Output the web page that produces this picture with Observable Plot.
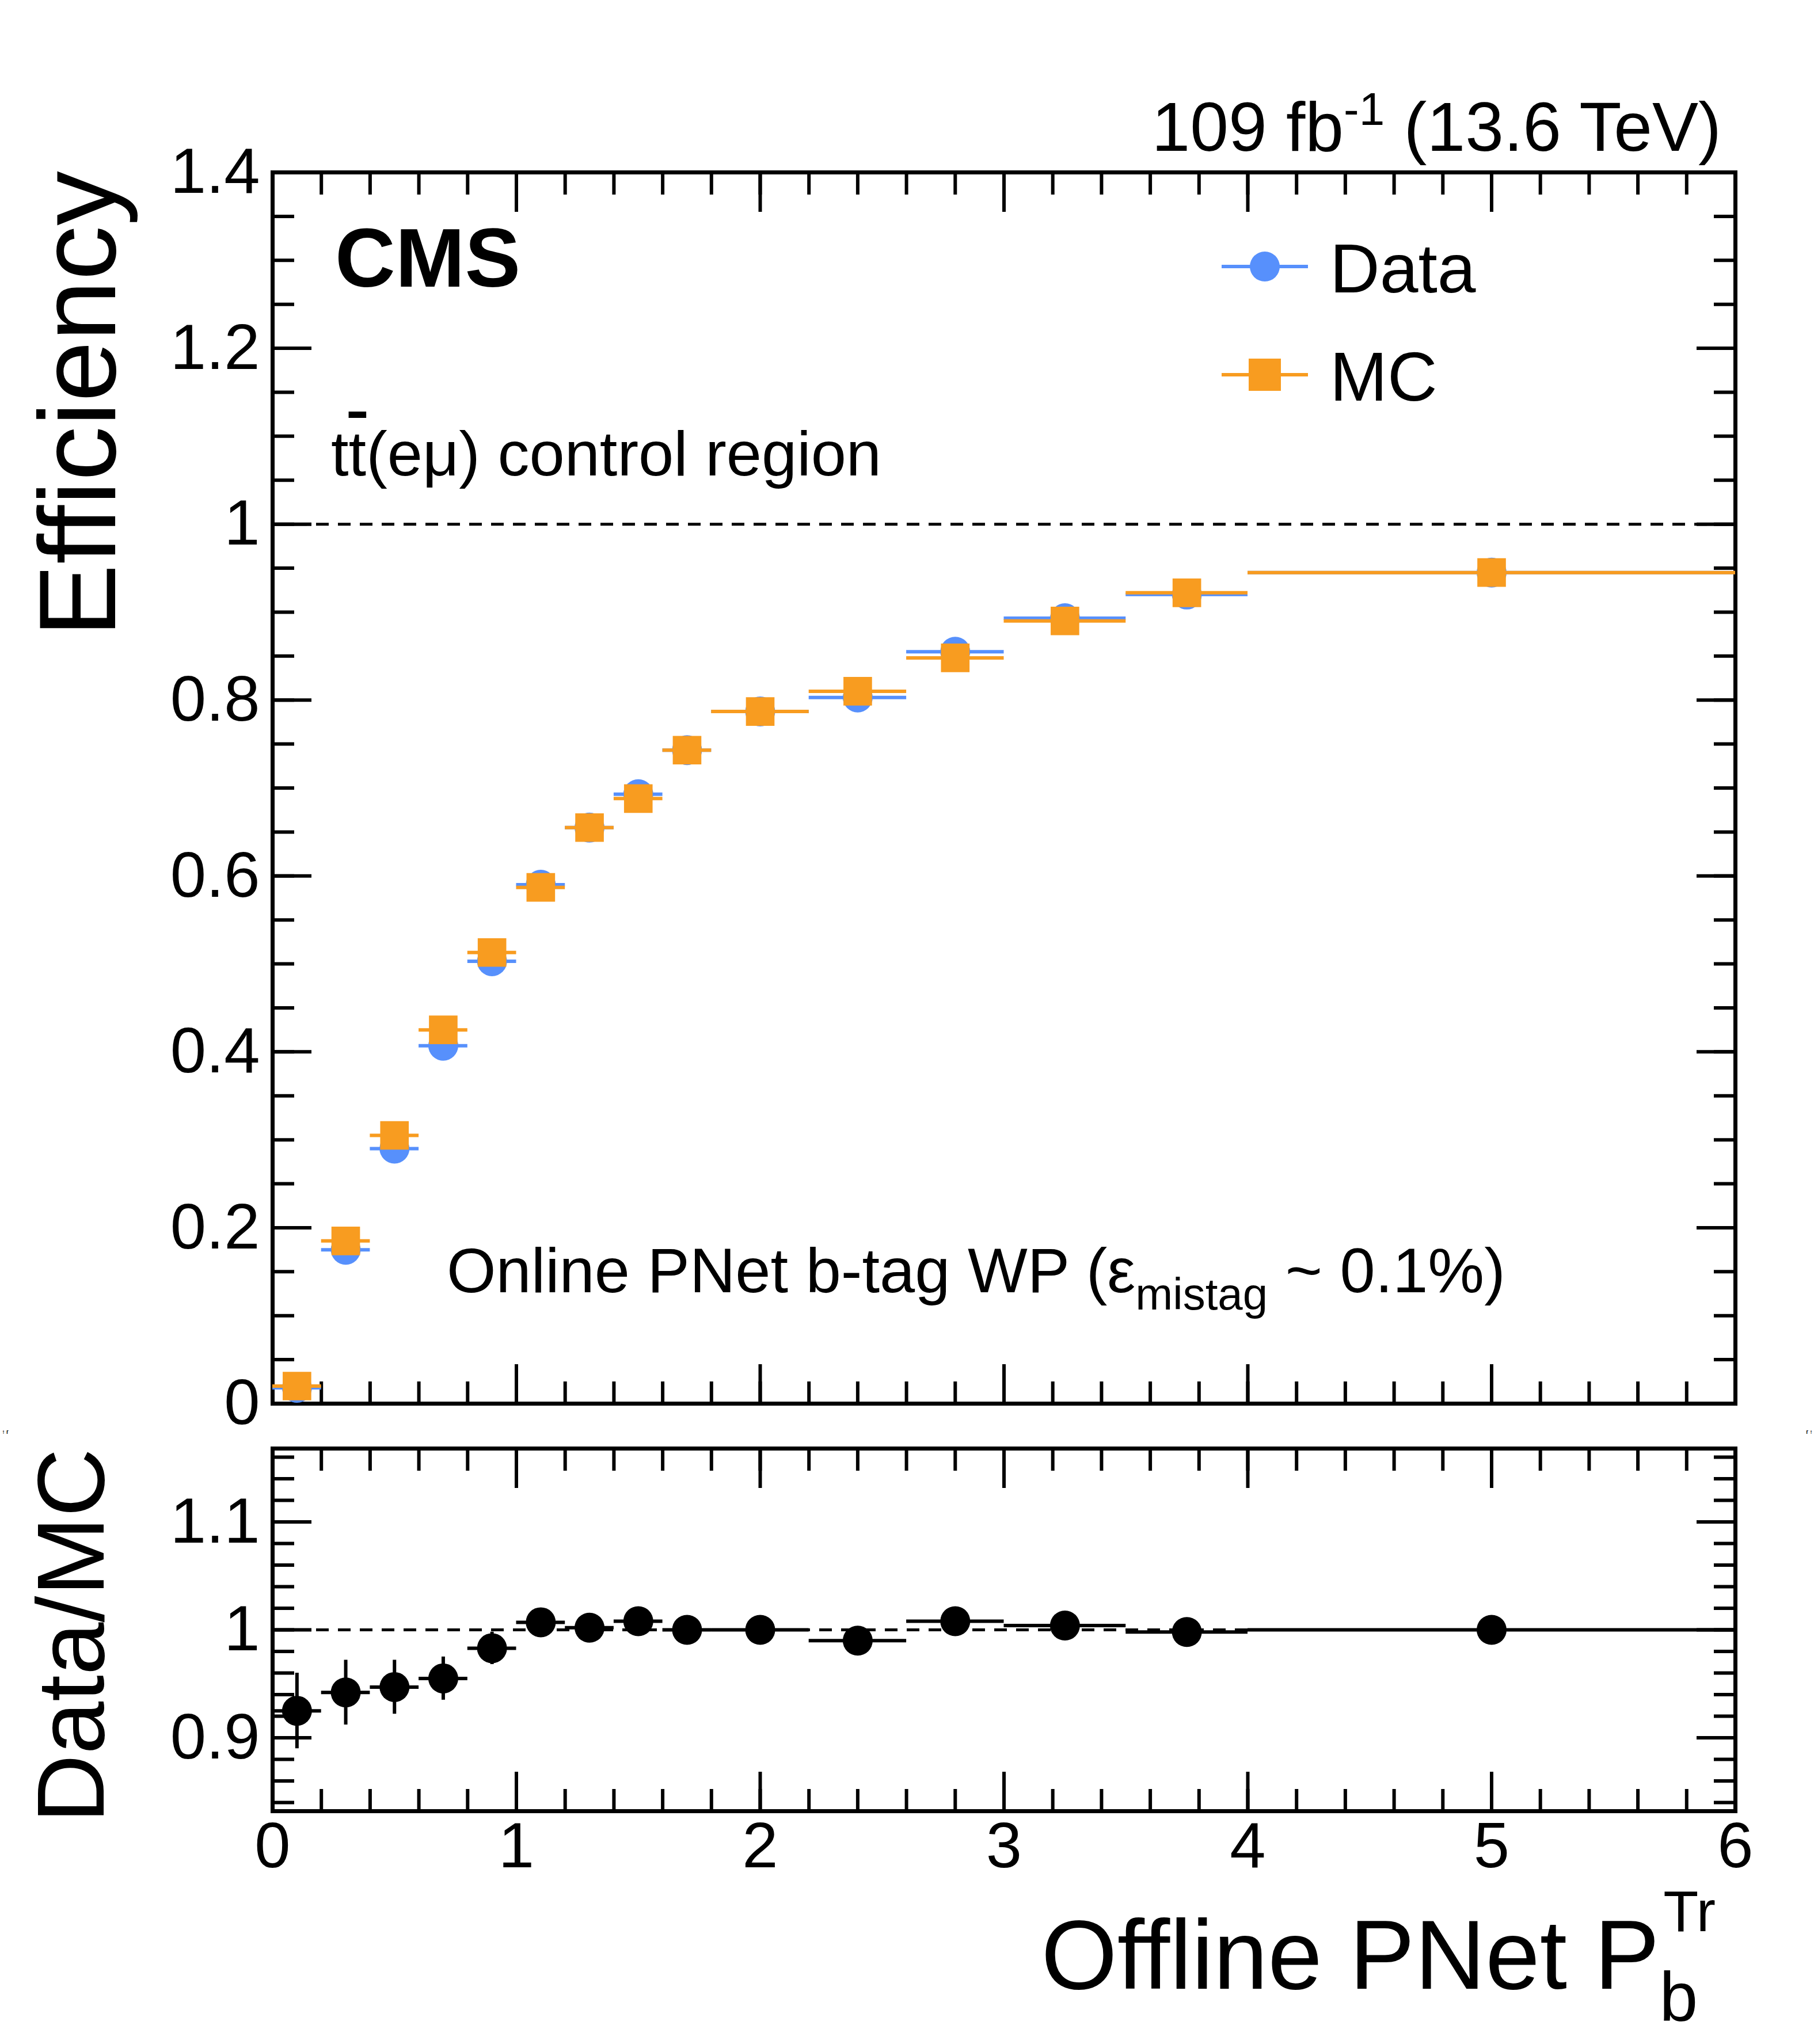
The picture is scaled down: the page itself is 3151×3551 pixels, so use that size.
<!DOCTYPE html>
<html><head><meta charset="utf-8">
<script src="https://cdn.jsdelivr.net/npm/d3@7"></script>
<script src="https://cdn.jsdelivr.net/npm/@observablehq/plot@0.6"></script>
<style>
body{margin:0;background:#fff;}
#wrap{position:relative;width:3151px;height:3551px;font-family:"Liberation Sans",Arial,sans-serif;}
#topdiv,#botdiv,#ov{position:absolute;left:0;}
#topdiv{top:0}#botdiv{top:2480px}#ov{top:0}
</style></head><body>
<div id="wrap"><div id="topdiv"></div><div id="botdiv"></div><svg id="ov" width="3151" height="3551"></svg></div>
<script>
const binLo = [0,0.2,0.4,0.6,0.8,1.0,1.2,1.4,1.6,1.8,2.2,2.6,3.0,3.5,4.0];
const binHi = [0.2,0.4,0.6,0.8,1.0,1.2,1.4,1.6,1.8,2.2,2.6,3.0,3.5,4.0,6.0];
const binC  = [0.1,0.3,0.5,0.7,0.9,1.1,1.3,1.5,1.7,2.0,2.4,2.8,3.25,3.75,5.0];
const effData = [0.018,0.175,0.290,0.407,0.503,0.590,0.655,0.693,0.743,0.787,0.803,0.855,0.893,0.920,0.945];
const effMC   = [0.020,0.185,0.305,0.425,0.513,0.587,0.655,0.688,0.743,0.787,0.810,0.848,0.890,0.922,0.945];
const ratio   = [0.925,0.942,0.947,0.955,0.983,1.007,1.002,1.008,1.000,1.000,0.990,1.008,1.004,0.998,1.000];
const ratioErr= [0.035,0.030,0.025,0.020,0.015,0.012,0.010,0.010,0.006,0.005,0.005,0.005,0.004,0.004,0.004];
const blue="#5790fc", orange="#f89c20";
const F='"Liberation Sans",Arial,sans-serif';
const rows = binC.map((c,i)=>({c,lo:binLo[i],hi:binHi[i],d:effData[i],m:effMC[i],r:ratio[i],re:ratioErr[i]}));
const xMinor = d3.range(0,6.001,0.2).map(v=>+v.toFixed(2));
const W=3151, L=473, R=W-3014;
function frameAxes(yMajor,yMinor,bottomLabels){
  const a=[
    Plot.axisX([0,1,2,3,4,5,6],{anchor:"bottom",tickSize:-68,strokeWidth:6,text:null}),
    Plot.axisX(xMinor,{anchor:"bottom",tickSize:-38,strokeWidth:6,text:null}),
    Plot.axisX([0,1,2,3,4,5,6],{anchor:"top",tickSize:-68,strokeWidth:6,text:null}),
    Plot.axisX(xMinor,{anchor:"top",tickSize:-38,strokeWidth:6,text:null}),
    Plot.axisY(yMajor,{anchor:"left",tickSize:-68,strokeWidth:6,text:null}),
    Plot.axisY(yMinor,{anchor:"left",tickSize:-38,strokeWidth:6,text:null}),
    Plot.axisY(yMajor,{anchor:"right",tickSize:-68,strokeWidth:6,text:null}),
    Plot.axisY(yMinor,{anchor:"right",tickSize:-38,strokeWidth:6,text:null}),
    Plot.frame({strokeWidth:7})
  ];
  if(bottomLabels) a.push(Plot.axisX([0,1,2,3,4,5,6],{anchor:"bottom",tickSize:0,tickPadding:18,fontSize:112,label:null,tickFormat:d=>String(d)}));
  return a;
}
const topPlot = Plot.plot({
  width:W,height:2475,marginLeft:L,marginRight:R,marginTop:299,marginBottom:37,
  style:{fontFamily:F,background:"white",overflow:"visible"},
  x:{domain:[0,6],axis:null},
  y:{domain:[0,1.4],axis:null},
  marks:[
    ...frameAxes([0,0.2,0.4,0.6,0.8,1,1.2,1.4], d3.range(0,1.4001,0.05).map(v=>+v.toFixed(2)), false),
    Plot.axisY([0,0.2,0.4,0.6,0.8,1,1.2,1.4],{anchor:"left",tickSize:0,tickPadding:22,fontSize:112,label:null,tickFormat:d=>String(d)}),
    Plot.ruleY([1],{stroke:"black",strokeWidth:5,strokeDasharray:"22,16"}),
    Plot.ruleY(rows,{x1:"lo",x2:"hi",y:"d",stroke:blue,strokeWidth:6}),
    Plot.dot(rows,{x:"c",y:"d",r:26,fill:blue,stroke:"none"}),
    Plot.ruleY(rows,{x1:"lo",x2:"hi",y:"m",stroke:orange,strokeWidth:6}),
    Plot.dot(rows,{x:"c",y:"m",r:28,symbol:"square",fill:orange,stroke:"none"})
  ]
});
document.getElementById("topdiv").appendChild(topPlot);
const botPlot = Plot.plot({
  width:W,height:1071,marginLeft:L,marginRight:R,marginTop:36,marginBottom:405,
  style:{fontFamily:F,background:"transparent",overflow:"visible"},
  x:{domain:[0,6],axis:null},
  y:{domain:[0.832,1.168],axis:null},
  marks:[
    ...frameAxes([0.9,1.0,1.1], d3.range(0.84,1.1601,0.02).map(v=>+v.toFixed(2)), true),
    Plot.axisY([0.9,1.0,1.1],{anchor:"left",tickSize:0,tickPadding:22,fontSize:112,label:null,tickFormat:d=>d===1?"1":String(d)}),
    Plot.ruleY([1],{stroke:"black",strokeWidth:5,strokeDasharray:"22,16"}),
    Plot.ruleY(rows,{x1:"lo",x2:"hi",y:"r",stroke:"black",strokeWidth:6}),
    Plot.ruleX(rows,{x:"c",y1:d=>d.r-d.re,y2:d=>d.r+d.re,stroke:"black",strokeWidth:6}),
    Plot.dot(rows,{x:"c",y:"r",r:26,fill:"black",stroke:"none"})
  ]
});
document.getElementById("botdiv").appendChild(botPlot);
const ov=d3.select("#ov").style("font-family",F);
function t(x,y,s,size,opts={}){const e=ov.append("text").attr("x",x).attr("y",y).attr("font-size",size).html(s);
  if(opts.anchor)e.attr("text-anchor",opts.anchor); if(opts.bold)e.attr("font-weight","bold"); if(opts.rot)e.attr("transform",`rotate(-90,${x},${y})`); return e;}
t(2990,262,'109 fb<tspan dy="-45" font-size="80">-1</tspan><tspan dy="45"> (13.6 TeV)</tspan>',120,{anchor:"end"});
t(582,498,"CMS",145,{bold:true});
t(575,826,"t<tspan text-decoration=\"overline\">t</tspan>(eμ) control region",110);
t(776,2245,'Online PNet b-tag WP (ε<tspan dy="30" font-size="78">mistag</tspan><tspan dy="-30"> ~ 0.1%)</tspan>',110);
t(200,297,"Efficiency",190,{anchor:"end",rot:true});
t(180,2516,"Data/MC",165,{anchor:"end",rot:true});
t(2980,3455,'Offline PNet P<tspan dy="55" font-size="120">b</tspan><tspan dy="-155" dx="-60" font-size="100">Tr</tspan>',170,{anchor:"end"});
const lg=[{y:463,lab:"Data",c:blue,sq:false},{y:651,lab:"MC",c:orange,sq:true}];
lg.forEach(g=>{
  ov.append("line").attr("x1",2122).attr("x2",2272).attr("y1",g.y).attr("y2",g.y).attr("stroke",g.c).attr("stroke-width",6);
  if(g.sq) ov.append("rect").attr("x",2197-28).attr("y",g.y-28).attr("width",56).attr("height",56).attr("fill",g.c);
  else ov.append("circle").attr("cx",2197).attr("cy",g.y).attr("r",26).attr("fill",g.c);
  t(2310,g.y+45,g.lab,120);
});
</script></body></html>
